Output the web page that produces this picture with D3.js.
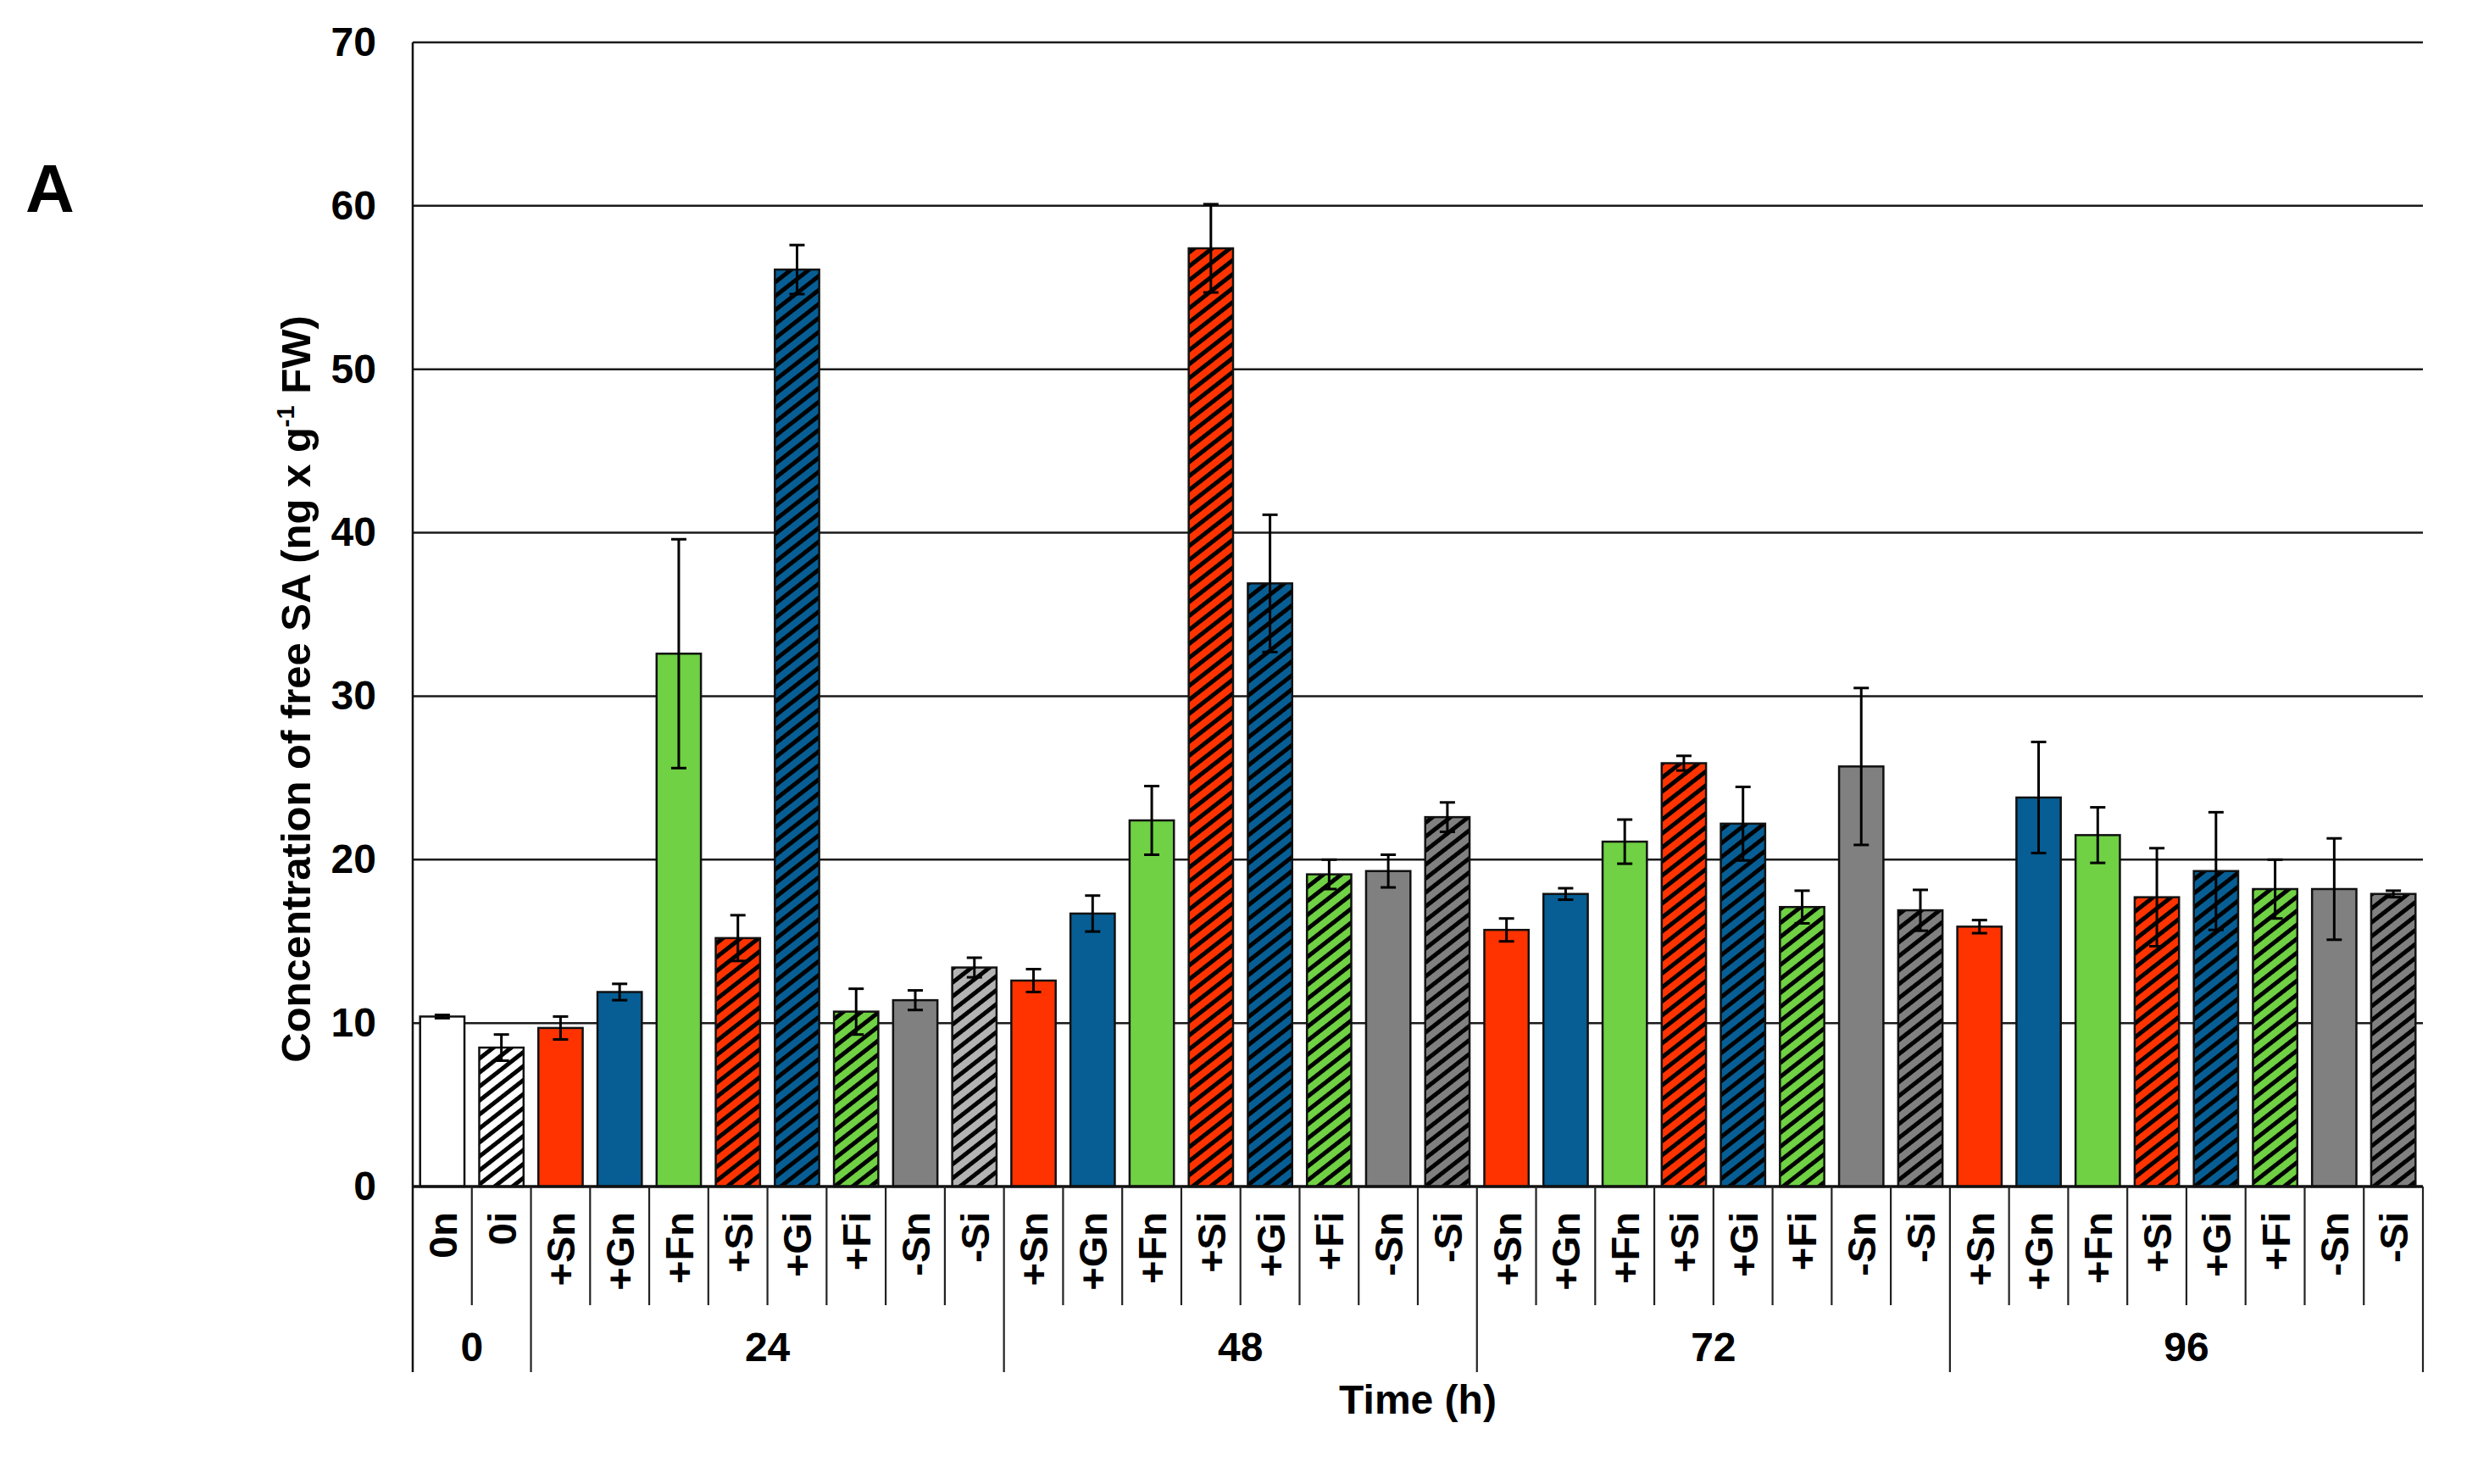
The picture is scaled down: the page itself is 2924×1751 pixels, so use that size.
<!DOCTYPE html>
<html>
<head>
<meta charset="utf-8">
<script src="https://cdn.jsdelivr.net/npm/d3@7"></script>
<style>
  html, body { margin: 0; padding: 0; background: #fff; }
  svg { display: block; }
  text { font-family: "Liberation Sans", Arial, sans-serif; font-weight: bold; fill: #000; }
</style>
</head>
<body>
<svg id="chart" width="2924" height="1751"></svg>
<script>
// ---------- DATA ----------
const timeGroups = ["0", "24", "48", "72", "96"];
const labels0 = ["0n", "0i"];
const treatments = ["+Sn", "+Gn", "+Fn", "+Si", "+Gi", "+Fi", "-Sn", "-Si"];

const mean0 = [10.4, 8.5];
const err0 = [0.1, 0.8];
const mean24 = [9.7, 11.9, 32.6, 15.2, 56.1, 10.7, 11.4, 13.4];
const err24 = [0.7, 0.5, 7.0, 1.4, 1.5, 1.4, 0.6, 0.6];
const mean48 = [12.6, 16.7, 22.4, 57.4, 36.9, 19.1, 19.3, 22.6];
const err48 = [0.7, 1.1, 2.1, 2.7, 4.2, 0.9, 1.0, 0.9];
const mean72 = [15.7, 17.9, 21.1, 25.9, 22.2, 17.1, 25.7, 16.9];
const err72 = [0.7, 0.35, 1.35, 0.45, 2.25, 1.0, 4.8, 1.25];
const mean96 = [15.9, 23.8, 21.5, 17.7, 19.3, 18.2, 18.2, 17.9];
const err96 = [0.4, 3.4, 1.7, 3.0, 3.6, 1.8, 3.1, 0.2];

const yTicks = [0, 10, 20, 30, 40, 50, 60, 70];
const yLabel = "Concentration of free SA (ng x g";
const xTitle = "Time (h)";
const panelLetter = "A";

// ---------- BUILD ROWS ----------
const groupLabels = [labels0, treatments, treatments, treatments, treatments];
const groupMeans = [mean0, mean24, mean48, mean72, mean96];
const groupErrs = [err0, err24, err48, err72, err96];
const rows = [];
timeGroups.forEach((g, gi) => {
  groupLabels[gi].forEach((lab, i) => {
    rows.push({ group: g, label: lab, key: g + "|" + lab, value: groupMeans[gi][i], err: groupErrs[gi][i] });
  });
});

// ---------- LAYOUT ----------
const pL = 487, pR = 2859, pT = 50, pB = 1400;
const catSepBottom = 1540, groupSepBottom = 1619;

const svg = d3.select("#chart");
const x = d3.scaleBand().domain(rows.map(d => d.key)).range([pL, pR]).paddingInner(0.25).paddingOuter(0.125);
const y = d3.scaleLinear().domain([0, 70]).range([pB, pT]);
const step = x.step();

// ---------- STYLES ----------
const RED = "#ff3300", BLUE = "#065e94", GREEN = "#6fd143", GRAY = "#808080", LIGHTGRAY = "#b3b3b3", WHITE = "#ffffff";
function baseColor(d) {
  const l = d.label;
  if (l[0] === "0") return WHITE;
  if (l[0] === "-") return (d.group === "24" && l === "-Si") ? LIGHTGRAY : GRAY;
  if (l[1] === "S") return RED;
  if (l[1] === "G") return BLUE;
  return GREEN;
}
function hatched(d) { return d.label[d.label.length - 1] === "i"; }

const defs = svg.append("defs");
const patColors = Array.from(new Set(rows.filter(hatched).map(baseColor)));
patColors.forEach((c, i) => {
  const p = defs.append("pattern")
    .attr("id", "hatch" + i)
    .attr("patternUnits", "userSpaceOnUse")
    .attr("width", 13).attr("height", 13)
    .attr("patternTransform", "rotate(52)");
  p.append("rect").attr("width", 13).attr("height", 13).attr("fill", c);
  p.append("line").attr("x1", 6.5).attr("y1", -1).attr("x2", 6.5).attr("y2", 14)
    .attr("stroke", "#000").attr("stroke-width", 5);
});
function fillOf(d) {
  const c = baseColor(d);
  return hatched(d) ? "url(#hatch" + patColors.indexOf(c) + ")" : c;
}

// ---------- GRIDLINES ----------
svg.append("g").selectAll("line").data(yTicks.filter(t => t > 0)).join("line")
  .attr("x1", pL).attr("x2", pR)
  .attr("y1", d => y(d)).attr("y2", d => y(d))
  .attr("stroke", "#1a1a1a").attr("stroke-width", 2.5);

// ---------- Y AXIS ----------
const yAxis = d3.axisLeft(y).tickValues(yTicks).tickSize(0).tickPadding(43).tickFormat(d3.format("d"));
const yg = svg.append("g").attr("transform", `translate(${pL},0)`).call(yAxis);
yg.select(".domain").remove();
yg.selectAll("text").attr("font-size", 48).attr("font-family", '"Liberation Sans", Arial, sans-serif').attr("font-weight", "bold").attr("fill", "#000");

// ---------- BARS ----------
svg.append("g").selectAll("rect").data(rows).join("rect")
  .attr("x", d => x(d.key)).attr("width", x.bandwidth())
  .attr("y", d => y(d.value)).attr("height", d => y(0) - y(d.value))
  .attr("fill", fillOf)
  .attr("stroke", "#111").attr("stroke-width", 2.5);

// ---------- ERROR BARS ----------
const eb = svg.append("g").attr("stroke", "#000").attr("stroke-width", 3);
const capW = 18;
const cx = d => x(d.key) + x.bandwidth() / 2;
eb.selectAll("line.v").data(rows).join("line").attr("class", "v")
  .attr("x1", cx).attr("x2", cx)
  .attr("y1", d => y(d.value + d.err)).attr("y2", d => y(d.value - d.err));
eb.selectAll("line.t").data(rows).join("line").attr("class", "t")
  .attr("x1", d => cx(d) - capW / 2).attr("x2", d => cx(d) + capW / 2)
  .attr("y1", d => y(d.value + d.err)).attr("y2", d => y(d.value + d.err));
eb.selectAll("line.b").data(rows).join("line").attr("class", "b")
  .attr("x1", d => cx(d) - capW / 2).attr("x2", d => cx(d) + capW / 2)
  .attr("y1", d => y(d.value - d.err)).attr("y2", d => y(d.value - d.err));

// ---------- AXIS LINES ----------
svg.append("line").attr("x1", pL).attr("x2", pR).attr("y1", pB).attr("y2", pB)
  .attr("stroke", "#111").attr("stroke-width", 3.5);
svg.append("line").attr("x1", pL).attr("x2", pL).attr("y1", pT).attr("y2", groupSepBottom)
  .attr("stroke", "#111").attr("stroke-width", 2.5);

// separators
const groupStarts = new Set();
timeGroups.forEach(g => { groupStarts.add(rows.findIndex(r => r.group === g)); });
const seps = d3.range(1, rows.length + 1).map(i => ({
  x: i < rows.length ? x(rows[i].key) - step * x.paddingInner() / 2 : pR,
  isGroup: i === rows.length || groupStarts.has(i)
}));
svg.append("g").selectAll("line").data(seps).join("line")
  .attr("x1", d => d.x).attr("x2", d => d.x)
  .attr("y1", pB).attr("y2", d => d.isGroup ? groupSepBottom : catSepBottom)
  .attr("stroke", "#222").attr("stroke-width", 2.2);

// category labels
svg.append("g").selectAll("text").data(rows).join("text")
  .attr("transform", d => `translate(${cx(d)},1430) rotate(-90)`)
  .attr("text-anchor", "end").attr("dy", "0.36em")
  .attr("font-size", 47)
  .text(d => d.label);

// group labels
svg.append("g").selectAll("text").data(timeGroups).join("text")
  .attr("x", g => {
    const rs = rows.filter(r => r.group === g);
    return (x(rs[0].key) + x(rs[rs.length - 1].key) + x.bandwidth()) / 2;
  })
  .attr("y", 1606).attr("text-anchor", "middle").attr("font-size", 48)
  .text(g => g);

// x title
svg.append("text").attr("x", (pL + pR) / 2).attr("y", 1668)
  .attr("text-anchor", "middle").attr("font-size", 48).text(xTitle);

// y title
const yt = svg.append("text")
  .attr("transform", `translate(366,${(pT + pB) / 2 + 88}) rotate(-90)`)
  .attr("text-anchor", "middle").attr("font-size", 49);
yt.append("tspan").text(yLabel);
yt.append("tspan").attr("font-size", 29).attr("dy", -19).text("-1");
yt.append("tspan").attr("dy", 19).text(" FW)");

// panel letter
svg.append("text").attr("x", 30).attr("y", 250).attr("font-size", 80).text(panelLetter);
</script>
</body>
</html>
